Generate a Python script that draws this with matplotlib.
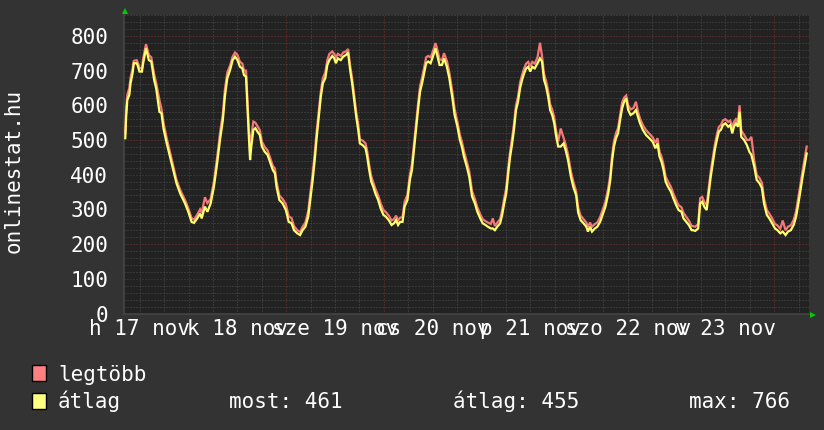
import numpy as np
import matplotlib
matplotlib.use("Agg")
import matplotlib.pyplot as plt
from matplotlib.patches import Rectangle

# ---------------- data (hours since 17 nov 00:00) ----------------
hours = [8.4, 8.6, 8.9, 9.4, 9.7, 10.2, 10.5, 11.2, 11.4, 11.9, 12.5, 12.8, 13.5, 14.2, 14.8, 15.5,
         16.0, 16.8, 17.3, 17.8, 18.6, 19.4, 20.2, 21.0, 21.9, 23.1, 23.9,
         24.7, 25.3, 26.1, 26.8, 27.2, 28.0, 28.6, 29.4, 30.2, 31.0, 31.7, 32.4, 32.9, 33.5, 34.2, 34.8,
         35.4, 36.0, 36.6, 37.2, 37.6, 38.1, 38.4, 38.8, 39.1, 39.4, 39.9, 40.4, 40.9, 41.5, 42.0, 42.7,
         43.4, 44.0, 44.7, 45.2, 45.6, 46.3, 47.1, 47.9,
         48.6, 49.3, 49.9, 50.7, 51.4, 52.0, 52.7, 53.4, 54.0, 54.5, 55.0, 55.5, 56.0, 56.5, 57.0, 57.6,
         58.1, 58.6, 59.3, 59.8, 60.2, 60.7, 61.4, 62.0, 62.7, 63.2, 63.7, 64.2, 64.7, 65.2, 65.7, 66.1,
         66.8, 67.5, 67.9, 68.4, 68.9, 69.4, 69.9, 70.6, 71.2, 71.9,
         72.5, 73.2, 73.9, 74.5, 75.0, 75.5, 76.0, 76.6, 77.1, 77.8, 78.4, 78.9, 79.4, 79.9, 80.4, 80.9,
         81.4, 81.9, 82.4, 82.9, 83.5, 84.2, 84.7, 85.2, 85.7, 86.3, 86.8, 87.5, 88.1, 88.8, 89.4, 90.1,
         90.7, 91.2, 91.7, 92.4, 93.0, 93.7, 94.4, 95.0, 95.7,
         96.3, 97.0, 97.6, 98.3, 98.8, 99.3, 99.9, 100.6, 101.1, 101.6, 102.1, 102.6, 103.0, 103.5, 104.0,
         104.5, 105.0, 105.5, 106.0, 106.5, 107.0, 107.5, 108.0, 108.5, 109.1, 109.8, 110.4, 110.9, 111.4,
         111.9, 112.4, 112.9, 113.4, 113.9, 114.4, 114.9, 115.5, 116.2, 116.7, 117.3, 118.0, 118.6, 119.3,
         119.8,
         120.4, 121.1, 121.8, 122.2, 122.7, 123.2, 123.9, 124.5, 125.2, 125.9, 126.5, 127.2, 127.7, 128.1,
         128.6, 129.1, 129.6, 130.1, 130.6, 131.1, 131.6, 132.1, 132.7, 133.4, 134.0, 134.5, 135.0, 135.7,
         136.5, 137.3, 138.1, 138.8, 139.3, 139.8, 140.3, 140.8, 141.3, 141.9, 142.6, 143.2, 143.9,
         144.5, 145.2, 145.7, 146.4, 147.0, 147.7, 148.0, 148.6, 149.3, 149.8, 150.3, 150.8, 151.4, 151.9,
         152.4, 152.9, 153.4, 153.9, 154.4, 154.9, 155.4, 156.0, 156.7, 157.2, 157.7, 158.1, 158.6, 159.1,
         159.5, 159.9, 160.6, 161.3, 161.9, 162.4, 163.1, 163.7, 164.4, 165.0, 165.5, 166.2, 166.8, 167.5,
         168.2, 168.8, 169.5, 170.1, 170.8, 171.4, 172.1, 172.8, 173.4, 174.1, 174.6, 175.0, 175.5, 176.0]

atlag = [505, 562, 615, 630, 663, 692, 721, 721, 716, 697, 697, 721, 764, 730, 726, 673,
         649, 581, 577, 533, 490, 452, 413, 375, 346, 317, 293,
         264, 261, 274, 288, 274, 308, 293, 317, 365, 433, 500, 557, 625, 678, 702, 730,
         740, 730, 711, 706, 687, 682, 606, 509, 442, 481, 529, 534, 524, 514, 481, 466,
         457, 437, 413, 404, 365, 327, 317, 298,
         264, 260, 240, 231, 226, 240, 250, 279, 337, 385, 442, 509, 567, 625, 663, 678,
         716, 730, 742, 735, 721, 735, 730, 740, 745, 752, 702, 663, 615, 567, 529, 490,
         485, 476, 452, 413, 380, 365, 346, 327, 303, 284,
         279, 269, 255, 260, 269, 255, 264, 264, 308, 327, 385, 413, 471, 529, 586, 639,
         663, 692, 721, 726, 721, 745, 764, 740, 716, 716, 735, 711, 678, 625, 572, 538,
         500, 480, 452, 423, 394, 337, 317, 293, 274,
         260, 255, 250, 245, 245, 240, 250, 260, 284, 317, 346, 404, 447, 485, 529,
         586, 610, 649, 673, 692, 706, 711, 697, 711, 706, 721, 735, 726, 673,
         654, 625, 586, 572, 548, 509, 481, 481, 490, 471, 442, 394, 365, 340,
         290,
         269, 260, 250, 236, 250, 236, 245, 250, 264, 288, 308, 346, 385, 437,
         481, 505, 519, 557, 591, 610, 620, 586, 572, 577, 586, 567, 548, 529,
         514, 505, 495, 476, 490, 452, 437, 413, 380, 365, 351, 332, 312,
         298, 293, 274, 264, 255, 240, 240, 238, 245, 317, 322, 308, 298, 346,
         394, 433, 471, 500, 524, 529, 543, 548, 538, 543, 519, 538, 548, 538,
         581, 509, 500, 485, 466, 457, 423, 385, 375, 361, 317, 284, 274, 260,
         245, 240, 231, 236, 226, 236, 240, 255, 279, 327, 365, 394, 428, 461]

legtobb = [520, 585, 630, 650, 680, 705, 728, 730, 725, 708, 705, 735, 776, 745, 738, 690,
           665, 615, 590, 550, 505, 465, 425, 385, 356, 327, 303,
           275, 270, 285, 300, 290, 335, 318, 330, 380, 450, 520, 575, 645, 695, 715, 740,
           752, 745, 725, 720, 700, 700, 630, 530, 465, 510, 553, 550, 540, 528, 495, 480,
           470, 450, 425, 418, 380, 340, 330, 315,
           280, 275, 252, 240, 235, 250, 262, 295, 355, 405, 462, 528, 585, 640, 678, 695,
           730, 748, 755, 748, 738, 748, 742, 752, 755, 762, 715, 678, 630, 582, 545, 502,
           498, 490, 468, 428, 395, 378, 360, 340, 318, 298,
           292, 282, 268, 272, 282, 268, 276, 278, 322, 342, 400, 430, 488, 545, 602, 655,
           680, 708, 738, 742, 738, 760, 779, 758, 732, 730, 750, 728, 695, 642, 590, 552,
           515, 495, 468, 438, 410, 352, 330, 306, 286,
           272, 266, 262, 258, 274, 252, 262, 272, 298, 332, 362, 420, 462, 502, 546,
           600, 625, 665, 688, 706, 720, 725, 712, 725, 720, 738, 780, 742, 690,
           670, 642, 603, 588, 565, 525, 496, 533, 506, 488, 458, 410, 380, 352,
           305,
           282, 272, 262, 250, 262, 250, 258, 262, 278, 302, 322, 362, 400, 452,
           497, 520, 534, 572, 608, 622, 628, 600, 588, 592, 610, 582, 562, 543,
           528, 518, 508, 492, 505, 466, 452, 428, 395, 380, 365, 346, 326,
           312, 306, 290, 278, 268, 252, 252, 250, 258, 332, 336, 322, 312, 362,
           410, 448, 486, 515, 538, 543, 556, 560, 552, 556, 535, 552, 560, 552,
           600, 528, 515, 500, 500, 509, 440, 400, 390, 376, 332, 298, 288, 274,
           258, 254, 244, 268, 240, 250, 254, 270, 295, 345, 382, 412, 446, 481]

day_labels = ["h 17 nov", "k 18 nov", "sze 19 nov", "cs 20 nov", "p 21 nov", "szo 22 nov", "v 23 nov"]
y_ticks = [0, 100, 200, 300, 400, 500, 600, 700, 800]
legend_names = ["legtöbb", "átlag"]
stats_text = ["most: 461", "átlag: 455", "max: 766"]

# ---------------- style ----------------
W, H = 824, 430
BG = "#333333"
CANVAS = "#222222"
PINK = "#f47878"
YELLOW = "#ffff6e"
MINOR = "#4e4e4e"
MAJOR = "#7c3030"
FONT = "DejaVu Sans Mono"
FS = 15

fig = plt.figure(figsize=(W / 100, H / 100), dpi=100, facecolor=BG)
ax_l, ax_r, ax_t, ax_b = 124, 809, 15, 313.5
ax = fig.add_axes([ax_l / W, 1 - ax_b / H, (ax_r - ax_l) / W, (ax_b - ax_t) / H])
ax.set_facecolor(CANVAS)

x0, x1 = 0.337, 7.357
ax.set_xlim(x0, x1)
ax.set_ylim(0, 860)

# grid
for v in np.arange(20, 861, 20):
    if v % 100 == 0:
        continue
    ax.axhline(v, color=MINOR, lw=0.72, ls=(0, (1, 2)), zorder=1)
for v in np.arange(0.5, 7.4, 0.25):
    if abs(v - round(v)) < 1e-9:
        continue
    ax.axvline(v, color=MINOR, lw=0.72, ls=(0, (1, 2)), zorder=1)
for v in range(100, 861, 100):
    ax.axhline(v, color=MAJOR, lw=0.72, ls=(0, (1, 2)), zorder=1.5)
for v in range(1, 8):
    ax.axvline(v, color=MAJOR, lw=0.72, ls=(0, (1, 2)), zorder=1.5)

days = np.array(hours) / 24.0
ax.plot(days, legtobb, color=PINK, lw=1.6, zorder=3, solid_joinstyle="miter")
ax.plot(days, atlag, color=YELLOW, lw=1.6, zorder=4, solid_joinstyle="miter")

for s in ["top", "right"]:
    ax.spines[s].set_visible(False)
for s in ["left", "bottom"]:
    ax.spines[s].set_color("#444444")
    ax.spines[s].set_linewidth(1.2)

ax.set_yticks(y_ticks)
ax.set_yticklabels([str(v) for v in y_ticks], fontsize=FS, family=FONT, color="white")
ax.set_xticks([i + 0.5 for i in range(len(day_labels))])
ax.set_xticklabels(day_labels, fontsize=FS, family=FONT, color="white")
ax.tick_params(axis="y", length=0, pad=11.5)
ax.tick_params(axis="x", length=0, pad=4)

# y-axis title
fig.text(14 / W, 1 - 171 / H, "onlinestat.hu", rotation=90, ha="center", va="center",
         fontsize=FS, family=FONT, color="white")

# arrows
fig.add_artist(plt.Line2D([125 / W], [1 - 11 / H], marker="^", markersize=4.5, color="#00cc00",
                          markeredgewidth=0, linestyle="none"))
fig.add_artist(plt.Line2D([813 / W], [1 - 314.5 / H], marker=">", markersize=4.5, color="#00cc00",
                          markeredgewidth=0, linestyle="none"))

# legend
sq = [(365, PINK.replace("#f47878", "#ff8080")), (393.3, "#ffff80")]
baselines = [381, 408]
for (top, col), name, bl in zip(sq, legend_names, baselines):
    fig.add_artist(Rectangle((32 / W, 1 - (top + 16) / H), 14 / W, 16 / H,
                             facecolor=col, edgecolor="black", lw=1.0,
                             transform=fig.transFigure))
    fig.text(58 / W, 1 - bl / H, name, ha="left", va="baseline",
             fontsize=FS, family=FONT, color="white")
for xpos, txt in zip([229, 453, 689], stats_text):
    fig.text(xpos / W, 1 - 408 / H, txt, ha="left", va="baseline",
             fontsize=FS, family=FONT, color="white")

fig.savefig("out.png", dpi=100, facecolor=BG)
